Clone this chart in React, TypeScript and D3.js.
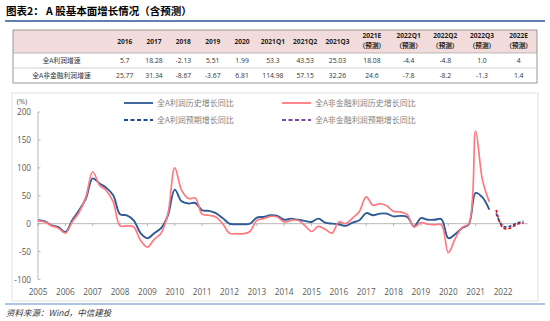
import React from 'react';
import * as d3 from 'd3';

// ---------- DATA ----------
const tableCols = ['2016', '2017', '2018', '2019', '2020', '2021Q1', '2021Q2', '2021Q3', '2021E', '2022Q1', '2022Q2', '2022Q3', '2022E'];
const tableIsForecast = [false, false, false, false, false, false, false, false, true, true, true, true, true];
const rowLabels = ['全A利润增速', '全A非金融利润增速'];
const rowAll = ['5.7', '18.28', '-2.13', '5.51', '1.99', '53.3', '43.53', '25.03', '18.08', '-4.4', '-4.8', '1.0', '4'];
const rowNonFin = ['25.77', '31.34', '-8.67', '-3.67', '6.81', '114.98', '57.15', '32.26', '24.6', '-7.8', '-8.2', '-1.3', '1.4'];

const histStart = 2005; // quarterly points, first at 2005Q1
const allHist = [
  6, 4, -3, -6,
  -15, 6, 24, 45,
  81, 72, 64, 51,
  17, 15, 6, -17,
  -26, -17, -8, 15,
  61, 40, 36, 37,
  24, 23, 19, 10,
  0, -1, -1, 0,
  11, 12, 15, 14,
  7, 9, 7, 5,
  3, 9, 2, 0,
  -1, -4, 2, 6,
  19, 15, 18, 18,
  13, 14, 12, -5,
  10, 7, 7, 8,
  -26, -19, -8, -1,
  55, 47, 25,
];
const nonFinHist = [
  5, 3, -4, -8,
  -17, 3, 20, 48,
  93, 69, 59, 39,
  -4, -4, -6, -30,
  -42, -28, -17, 18,
  100, 60, 45, 46,
  17, 15, 12, 0,
  -17, -18, -18, -14,
  6, 9, 13, 12,
  3, 6, 6, -3,
  -14, -5, -10, -17,
  3, 0, 10, 22,
  48, 33, 36, 32,
  22, 21, 16, -6,
  2, -1, -2, -2,
  -52, -27, -7, 0,
  166, 78, 39,
];
const forecastStart = 2021.75;
const allForecast = [18.08, -4.4, -4.8, 1.0, 4];
const nonFinForecast = [24.6, -7.8, -8.2, -1.3, 1.4];

const xYears = d3.range(2005, 2023);
const yTicks = [-100, -50, 0, 50, 100, 150, 200];

const legendItems = [
  { label: '全A利润历史增长同比', color: '#2E5A95', dash: '' },
  { label: '全A非金融利润历史增长同比', color: '#FF7A80', dash: '' },
  { label: '全A利润预期增长同比', color: '#1F4E8C', dash: '4,2.5' },
  { label: '全A非金融利润预期增长同比', color: '#7A4AA8', dash: '4,2.5' },
];

// ---------- LAYOUT ----------
const W = 550, H = 321;
const CJK = '"Noto Sans CJK SC", "Noto Sans", sans-serif';
const LAT = '"Open Sans", "Liberation Sans", sans-serif';

const colWeights = [1, 1, 1, 1, 1, 1.1, 1.1, 1.1, 1.25, 1.25, 1.25, 1.25, 1.25];
const tbl = { left: 13, right: 537, labelRight: 110, top: 30, headBottom: 53, row1Bottom: 68, bottom: 83 };

export default function App() {
  const x = d3.scaleLinear().domain([2005, 2022]).range([38, 503]);
  const y = d3.scaleLinear().domain([-100, 200]).range([279.5, 112]);

  const toPts = (arr: number[], start: number) => arr.map((v, i) => [start + i * 0.25, v] as [number, number]);
  const line = d3.line<[number, number]>().x(d => x(d[0])).y(d => y(d[1])).curve(d3.curveCatmullRom.alpha(0.5));

  // table columns
  const totalW = d3.sum(colWeights);
  const unit = (tbl.right - tbl.labelRight) / totalW;
  const cum = colWeights.reduce<number[]>((acc, w, i) => { acc.push((i ? acc[i - 1] : 0) + w); return acc; }, []);
  const colCenter = (i: number) => tbl.labelRight + (cum[i] - colWeights[i] / 2) * unit;
  const labelCenter = (tbl.left + tbl.labelRight) / 2;

  const row1Y = (tbl.headBottom + tbl.row1Bottom) / 2;
  const row2Y = (tbl.row1Bottom + tbl.bottom) / 2;

  const xAxisEnd = x(2022.9);

  return (
    <svg width={W} height={H} style={{ position: 'absolute', left: 0, top: 0, background: '#fff' }}>
      {/* title */}
      <text x={6} y={15} fontFamily={CJK} fontSize={10.5} fontWeight="bold" fill="#000">图表2：  A 股基本面增长情况（含预测）</text>
      <line x1={5} x2={545} y1={21} y2={21} stroke="#2F5597" strokeWidth={1.6} />

      {/* table */}
      <rect x={tbl.left} y={tbl.top} width={tbl.right - tbl.left} height={tbl.headBottom - tbl.top} fill="#F2DCDB" />
      <rect x={tbl.left} y={tbl.top} width={tbl.right - tbl.left} height={tbl.bottom - tbl.top} fill="none" stroke="#808080" strokeWidth={0.8} />
      <line x1={tbl.left} x2={tbl.right} y1={tbl.headBottom} y2={tbl.headBottom} stroke="#A0A0A0" strokeWidth={0.7} />
      <line x1={tbl.left} x2={tbl.right} y1={tbl.row1Bottom} y2={tbl.row1Bottom} stroke="#BFBFBF" strokeWidth={0.7} />
      {tableCols.map((c, i) => (
        tableIsForecast[i] ? (
          <g key={c}>
            <text x={colCenter(i)} y={38} textAnchor="middle" fontFamily={LAT} fontSize={6.6} fontWeight="bold" fill="#222">{c}</text>
            <text x={colCenter(i)} y={47.5} textAnchor="middle" fontFamily={CJK} fontSize={6.6} fontWeight="bold" fill="#222">（预测）</text>
          </g>
        ) : (
          <text key={c} x={colCenter(i)} y={44} textAnchor="middle" fontFamily={LAT} fontSize={6.6} fontWeight="bold" fill="#222">{c}</text>
        )
      ))}
      <text x={labelCenter} y={row1Y + 2.5} textAnchor="middle" fontFamily={CJK} fontSize={6.8} fill="#333">{rowLabels[0]}</text>
      <text x={labelCenter} y={row2Y + 2.5} textAnchor="middle" fontFamily={CJK} fontSize={6.8} fill="#333">{rowLabels[1]}</text>
      {rowAll.map((v, i) => (
        <text key={'a' + i} x={colCenter(i)} y={row1Y + 2.5} textAnchor="middle" fontFamily={LAT} fontSize={6.8} fill="#333">{v}</text>
      ))}
      {rowNonFin.map((v, i) => (
        <text key={'n' + i} x={colCenter(i)} y={row2Y + 2.5} textAnchor="middle" fontFamily={LAT} fontSize={6.8} fill="#333">{v}</text>
      ))}

      {/* chart frame */}
      <rect x={12} y={93} width={526} height={208} fill="none" stroke="#D9D9D9" strokeWidth={0.8} />

      {/* y axis */}
      <text x={22} y={104} textAnchor="middle" fontFamily={LAT} fontSize={7.5} fill="#595959">(%)</text>
      <line x1={x(2005)} x2={x(2005)} y1={y(200)} y2={y(-100)} stroke="#A6A6A6" strokeWidth={0.8} />
      {yTicks.map(t => (
        <g key={t}>
          <line x1={x(2005)} x2={x(2005) + 2.5} y1={y(t)} y2={y(t)} stroke="#A6A6A6" strokeWidth={0.8} />
          <text x={31} y={y(t) + 3} textAnchor="end" fontFamily={LAT} fontSize={8.2} fill="#595959">{t}</text>
        </g>
      ))}

      {/* x axis at zero */}
      <line x1={x(2005)} x2={xAxisEnd} y1={y(0)} y2={y(0)} stroke="#A6A6A6" strokeWidth={0.8} />
      {xYears.map(yr => (
        <g key={yr}>
          <line x1={x(yr)} x2={x(yr)} y1={y(0)} y2={y(0) + 2.5} stroke="#A6A6A6" strokeWidth={0.8} />
          <text x={x(yr)} y={295} textAnchor="middle" fontFamily={LAT} fontSize={8.2} fill="#595959">{yr}</text>
        </g>
      ))}

      {/* lines */}
      <path d={line(toPts(allHist, histStart)) || ''} fill="none" stroke={legendItems[0].color} strokeWidth={1.9} />
      <path d={line(toPts(nonFinHist, histStart)) || ''} fill="none" stroke={legendItems[1].color} strokeWidth={1.7} />
      <path d={line(toPts(allForecast, forecastStart)) || ''} fill="none" stroke={legendItems[2].color} strokeWidth={1.7} strokeDasharray="3,2" />
      <path d={line(toPts(nonFinForecast, forecastStart)) || ''} fill="none" stroke="#E8101C" strokeWidth={1.7} strokeDasharray="3,2" />

      {/* legend */}
      {legendItems.map((it, i) => {
        const lx = i % 2 === 0 ? 124 : 282;
        const ly = i < 2 ? 103 : 120;
        return (
          <g key={it.label}>
            <line x1={lx} x2={lx + 29} y1={ly} y2={ly} stroke={it.color} strokeWidth={1.8} strokeDasharray={it.dash || undefined} />
            <text x={lx + 33} y={ly + 3} fontFamily={CJK} fontSize={8} fill="#7F7F7F">{it.label}</text>
          </g>
        );
      })}

      {/* footer */}
      <line x1={5} x2={545} y1={304} y2={304} stroke="#5B8BC9" strokeWidth={1} />
      <text x={6} y={316} fontFamily={CJK} fontSize={8.5} fontStyle="italic" fill="#333">资料来源：Wind，中信建投</text>
    </svg>
  );
}
